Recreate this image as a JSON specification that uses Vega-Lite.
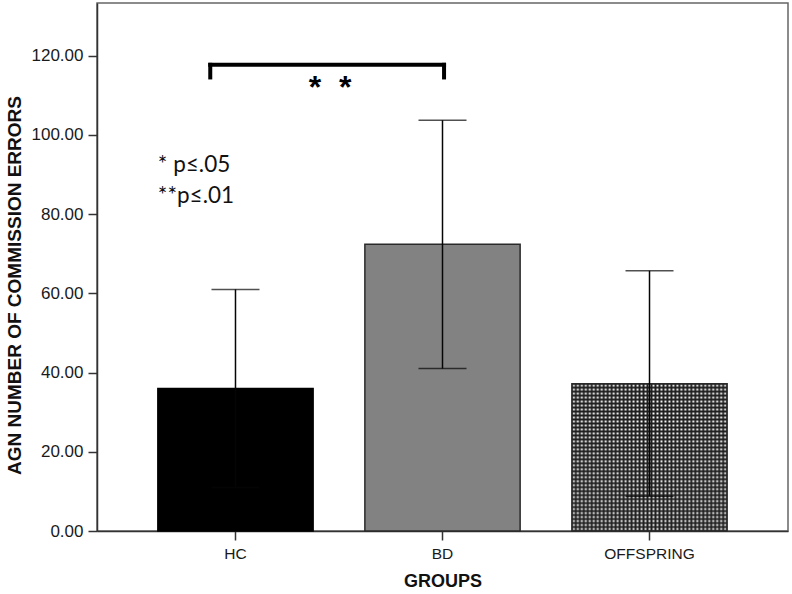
{
  "$schema": "https://vega.github.io/schema/vega-lite/v6.json",
  "autosize": {"type": "none"},
  "padding": {"left": 97, "top": 3, "right": 4, "bottom": 63},
  "width": 691,
  "height": 528,
  "background": "white",
  "datasets": {
    "bars": [
      {"group": "HC", "mean": 36.0, "lo": 11.0, "hi": 61.0},
      {"group": "BD", "mean": 72.4, "lo": 41.0, "hi": 103.7},
      {"group": "OFFSPRING", "mean": 37.2, "lo": 8.8, "hi": 65.7}
    ],
    "bracket": [{"from": "HC", "to": "BD", "y": 117.7, "ylo": 114.0, "ytop": 118.2, "stars": "*\u00a0\u00a0*", "ystars": 109.4}],
    "legend": [
      {"group": "HC", "label": "* p≤.05", "y": 92.3},
      {"group": "HC", "label": "**p≤.01", "y": 84.7}
    ]
  },
  "config": {
    "view": {"stroke": "#666", "strokeWidth": 1.5},
    "axis": {
      "labelFont": "Liberation Sans", "titleFont": "Liberation Sans",
      "labelColor": "#1a1a1a", "titleColor": "#111",
      "domainColor": "#333", "tickColor": "#333", "grid": false,
      "domainWidth": 1.5, "tickWidth": 1.5, "tickSize": 9
    }
  },
  "encoding": {
    "x": {
      "field": "group", "type": "nominal",
      "scale": {"domain": ["HC", "BD", "OFFSPRING"], "paddingInner": 0.25, "paddingOuter": 0.294},
      "sort": null,
      "axis": {"title": "GROUPS", "labelAngle": 0, "labelFontSize": 15.5, "labelPadding": 6, "titleFontSize": 18, "titleFontWeight": "bold", "titlePadding": 11}
    }
  },
  "layer": [
    {
      "data": {"name": "bars"},
      "transform": [{"filter": "datum.group != 'OFFSPRING'"}],
      "mark": {"type": "bar", "strokeWidth": 1.5},
      "encoding": {
        "y": {
          "field": "mean", "type": "quantitative",
          "scale": {"domain": [0, 133.3], "nice": false, "zero": true},
          "axis": {"title": "AGN NUMBER OF COMMISSION ERRORS", "titleY": 282, "values": [0, 20, 40, 60, 80, 100, 120], "format": ".2f", "labelFontSize": 17, "labelPadding": 5, "titleFontSize": 19, "titleFontWeight": "bold", "titlePadding": 7}
        },
        "fill": {"field": "group", "type": "nominal", "scale": {"domain": ["HC", "BD"], "range": ["#000000", "#828282"]}, "legend": null},
        "stroke": {"field": "group", "type": "nominal", "scale": {"domain": ["HC", "BD"], "range": ["#000000", "#2a2a2a"]}, "legend": null}
      }
    },
    {
      "data": {"name": "bars"},
      "transform": [{"filter": "datum.group == 'OFFSPRING'"}],
      "mark": {"type": "bar", "fill": "white", "strokeWidth": 0},
      "encoding": {"y": {"field": "mean", "type": "quantitative"}}
    },
    {
      "data": {"name": "bars"},
      "transform": [{"filter": "datum.group == 'OFFSPRING'"}],
      "mark": {"type": "bar", "strokeWidth": 0, "fill": {"gradient": "linear", "x1": 0, "x2": 1, "y1": 0, "y2": 0, "stops": [
        {"offset": 0, "color": "rgba(30,30,30,1)"}, {"offset": 0.01282, "color": "rgba(30,30,30,0)"},
        {"offset": 0.02564, "color": "rgba(30,30,30,1)"}, {"offset": 0.03846, "color": "rgba(30,30,30,0)"},
        {"offset": 0.05128, "color": "rgba(30,30,30,1)"}, {"offset": 0.06410, "color": "rgba(30,30,30,0)"},
        {"offset": 0.07692, "color": "rgba(30,30,30,1)"}, {"offset": 0.08974, "color": "rgba(30,30,30,0)"},
        {"offset": 0.10256, "color": "rgba(30,30,30,1)"}, {"offset": 0.11538, "color": "rgba(30,30,30,0)"},
        {"offset": 0.12821, "color": "rgba(30,30,30,1)"}, {"offset": 0.14103, "color": "rgba(30,30,30,0)"},
        {"offset": 0.15385, "color": "rgba(30,30,30,1)"}, {"offset": 0.16667, "color": "rgba(30,30,30,0)"},
        {"offset": 0.17949, "color": "rgba(30,30,30,1)"}, {"offset": 0.19231, "color": "rgba(30,30,30,0)"},
        {"offset": 0.20513, "color": "rgba(30,30,30,1)"}, {"offset": 0.21795, "color": "rgba(30,30,30,0)"},
        {"offset": 0.23077, "color": "rgba(30,30,30,1)"}, {"offset": 0.24359, "color": "rgba(30,30,30,0)"},
        {"offset": 0.25641, "color": "rgba(30,30,30,1)"}, {"offset": 0.26923, "color": "rgba(30,30,30,0)"},
        {"offset": 0.28205, "color": "rgba(30,30,30,1)"}, {"offset": 0.29487, "color": "rgba(30,30,30,0)"},
        {"offset": 0.30769, "color": "rgba(30,30,30,1)"}, {"offset": 0.32051, "color": "rgba(30,30,30,0)"},
        {"offset": 0.33333, "color": "rgba(30,30,30,1)"}, {"offset": 0.34615, "color": "rgba(30,30,30,0)"},
        {"offset": 0.35897, "color": "rgba(30,30,30,1)"}, {"offset": 0.37179, "color": "rgba(30,30,30,0)"},
        {"offset": 0.38462, "color": "rgba(30,30,30,1)"}, {"offset": 0.39744, "color": "rgba(30,30,30,0)"},
        {"offset": 0.41026, "color": "rgba(30,30,30,1)"}, {"offset": 0.42308, "color": "rgba(30,30,30,0)"},
        {"offset": 0.43590, "color": "rgba(30,30,30,1)"}, {"offset": 0.44872, "color": "rgba(30,30,30,0)"},
        {"offset": 0.46154, "color": "rgba(30,30,30,1)"}, {"offset": 0.47436, "color": "rgba(30,30,30,0)"},
        {"offset": 0.48718, "color": "rgba(30,30,30,1)"}, {"offset": 0.50000, "color": "rgba(30,30,30,0)"},
        {"offset": 0.51282, "color": "rgba(30,30,30,1)"}, {"offset": 0.52564, "color": "rgba(30,30,30,0)"},
        {"offset": 0.53846, "color": "rgba(30,30,30,1)"}, {"offset": 0.55128, "color": "rgba(30,30,30,0)"},
        {"offset": 0.56410, "color": "rgba(30,30,30,1)"}, {"offset": 0.57692, "color": "rgba(30,30,30,0)"},
        {"offset": 0.58974, "color": "rgba(30,30,30,1)"}, {"offset": 0.60256, "color": "rgba(30,30,30,0)"},
        {"offset": 0.61538, "color": "rgba(30,30,30,1)"}, {"offset": 0.62821, "color": "rgba(30,30,30,0)"},
        {"offset": 0.64103, "color": "rgba(30,30,30,1)"}, {"offset": 0.65385, "color": "rgba(30,30,30,0)"},
        {"offset": 0.66667, "color": "rgba(30,30,30,1)"}, {"offset": 0.67949, "color": "rgba(30,30,30,0)"},
        {"offset": 0.69231, "color": "rgba(30,30,30,1)"}, {"offset": 0.70513, "color": "rgba(30,30,30,0)"},
        {"offset": 0.71795, "color": "rgba(30,30,30,1)"}, {"offset": 0.73077, "color": "rgba(30,30,30,0)"},
        {"offset": 0.74359, "color": "rgba(30,30,30,1)"}, {"offset": 0.75641, "color": "rgba(30,30,30,0)"},
        {"offset": 0.76923, "color": "rgba(30,30,30,1)"}, {"offset": 0.78205, "color": "rgba(30,30,30,0)"},
        {"offset": 0.79487, "color": "rgba(30,30,30,1)"}, {"offset": 0.80769, "color": "rgba(30,30,30,0)"},
        {"offset": 0.82051, "color": "rgba(30,30,30,1)"}, {"offset": 0.83333, "color": "rgba(30,30,30,0)"},
        {"offset": 0.84615, "color": "rgba(30,30,30,1)"}, {"offset": 0.85897, "color": "rgba(30,30,30,0)"},
        {"offset": 0.87179, "color": "rgba(30,30,30,1)"}, {"offset": 0.88462, "color": "rgba(30,30,30,0)"},
        {"offset": 0.89744, "color": "rgba(30,30,30,1)"}, {"offset": 0.91026, "color": "rgba(30,30,30,0)"},
        {"offset": 0.92308, "color": "rgba(30,30,30,1)"}, {"offset": 0.93590, "color": "rgba(30,30,30,0)"},
        {"offset": 0.94872, "color": "rgba(30,30,30,1)"}, {"offset": 0.96154, "color": "rgba(30,30,30,0)"},
        {"offset": 0.97436, "color": "rgba(30,30,30,1)"}, {"offset": 0.98718, "color": "rgba(30,30,30,0)"},
        {"offset": 1, "color": "rgba(30,30,30,1)"}
      ]}},
      "encoding": {"y": {"field": "mean", "type": "quantitative"}}
    },
    {
      "data": {"name": "bars"},
      "transform": [{"filter": "datum.group == 'OFFSPRING'"}],
      "mark": {"type": "bar", "strokeWidth": 0, "fill": {"gradient": "linear", "x1": 0, "x2": 0, "y1": 0, "y2": 1, "stops": [
        {"offset": 0, "color": "rgba(30,30,30,1)"}, {"offset": 0.01351, "color": "rgba(30,30,30,0)"},
        {"offset": 0.02703, "color": "rgba(30,30,30,1)"}, {"offset": 0.04054, "color": "rgba(30,30,30,0)"},
        {"offset": 0.05405, "color": "rgba(30,30,30,1)"}, {"offset": 0.06757, "color": "rgba(30,30,30,0)"},
        {"offset": 0.08108, "color": "rgba(30,30,30,1)"}, {"offset": 0.09459, "color": "rgba(30,30,30,0)"},
        {"offset": 0.10811, "color": "rgba(30,30,30,1)"}, {"offset": 0.12162, "color": "rgba(30,30,30,0)"},
        {"offset": 0.13514, "color": "rgba(30,30,30,1)"}, {"offset": 0.14865, "color": "rgba(30,30,30,0)"},
        {"offset": 0.16216, "color": "rgba(30,30,30,1)"}, {"offset": 0.17568, "color": "rgba(30,30,30,0)"},
        {"offset": 0.18919, "color": "rgba(30,30,30,1)"}, {"offset": 0.20270, "color": "rgba(30,30,30,0)"},
        {"offset": 0.21622, "color": "rgba(30,30,30,1)"}, {"offset": 0.22973, "color": "rgba(30,30,30,0)"},
        {"offset": 0.24324, "color": "rgba(30,30,30,1)"}, {"offset": 0.25676, "color": "rgba(30,30,30,0)"},
        {"offset": 0.27027, "color": "rgba(30,30,30,1)"}, {"offset": 0.28378, "color": "rgba(30,30,30,0)"},
        {"offset": 0.29730, "color": "rgba(30,30,30,1)"}, {"offset": 0.31081, "color": "rgba(30,30,30,0)"},
        {"offset": 0.32432, "color": "rgba(30,30,30,1)"}, {"offset": 0.33784, "color": "rgba(30,30,30,0)"},
        {"offset": 0.35135, "color": "rgba(30,30,30,1)"}, {"offset": 0.36486, "color": "rgba(30,30,30,0)"},
        {"offset": 0.37838, "color": "rgba(30,30,30,1)"}, {"offset": 0.39189, "color": "rgba(30,30,30,0)"},
        {"offset": 0.40541, "color": "rgba(30,30,30,1)"}, {"offset": 0.41892, "color": "rgba(30,30,30,0)"},
        {"offset": 0.43243, "color": "rgba(30,30,30,1)"}, {"offset": 0.44595, "color": "rgba(30,30,30,0)"},
        {"offset": 0.45946, "color": "rgba(30,30,30,1)"}, {"offset": 0.47297, "color": "rgba(30,30,30,0)"},
        {"offset": 0.48649, "color": "rgba(30,30,30,1)"}, {"offset": 0.50000, "color": "rgba(30,30,30,0)"},
        {"offset": 0.51351, "color": "rgba(30,30,30,1)"}, {"offset": 0.52703, "color": "rgba(30,30,30,0)"},
        {"offset": 0.54054, "color": "rgba(30,30,30,1)"}, {"offset": 0.55405, "color": "rgba(30,30,30,0)"},
        {"offset": 0.56757, "color": "rgba(30,30,30,1)"}, {"offset": 0.58108, "color": "rgba(30,30,30,0)"},
        {"offset": 0.59459, "color": "rgba(30,30,30,1)"}, {"offset": 0.60811, "color": "rgba(30,30,30,0)"},
        {"offset": 0.62162, "color": "rgba(30,30,30,1)"}, {"offset": 0.63514, "color": "rgba(30,30,30,0)"},
        {"offset": 0.64865, "color": "rgba(30,30,30,1)"}, {"offset": 0.66216, "color": "rgba(30,30,30,0)"},
        {"offset": 0.67568, "color": "rgba(30,30,30,1)"}, {"offset": 0.68919, "color": "rgba(30,30,30,0)"},
        {"offset": 0.70270, "color": "rgba(30,30,30,1)"}, {"offset": 0.71622, "color": "rgba(30,30,30,0)"},
        {"offset": 0.72973, "color": "rgba(30,30,30,1)"}, {"offset": 0.74324, "color": "rgba(30,30,30,0)"},
        {"offset": 0.75676, "color": "rgba(30,30,30,1)"}, {"offset": 0.77027, "color": "rgba(30,30,30,0)"},
        {"offset": 0.78378, "color": "rgba(30,30,30,1)"}, {"offset": 0.79730, "color": "rgba(30,30,30,0)"},
        {"offset": 0.81081, "color": "rgba(30,30,30,1)"}, {"offset": 0.82432, "color": "rgba(30,30,30,0)"},
        {"offset": 0.83784, "color": "rgba(30,30,30,1)"}, {"offset": 0.85135, "color": "rgba(30,30,30,0)"},
        {"offset": 0.86486, "color": "rgba(30,30,30,1)"}, {"offset": 0.87838, "color": "rgba(30,30,30,0)"},
        {"offset": 0.89189, "color": "rgba(30,30,30,1)"}, {"offset": 0.90541, "color": "rgba(30,30,30,0)"},
        {"offset": 0.91892, "color": "rgba(30,30,30,1)"}, {"offset": 0.93243, "color": "rgba(30,30,30,0)"},
        {"offset": 0.94595, "color": "rgba(30,30,30,1)"}, {"offset": 0.95946, "color": "rgba(30,30,30,0)"},
        {"offset": 0.97297, "color": "rgba(30,30,30,1)"}, {"offset": 0.98649, "color": "rgba(30,30,30,0)"},
        {"offset": 1, "color": "rgba(30,30,30,1)"}
      ]}},
      "encoding": {"y": {"field": "mean", "type": "quantitative"}}
    },
    {
      "data": {"name": "bars"},
      "transform": [{"filter": "datum.group == 'OFFSPRING'"}],
      "mark": {"type": "bar", "fill": null, "fillOpacity": 0, "stroke": "#2a2a2a", "strokeWidth": 1.5},
      "encoding": {"y": {"field": "mean", "type": "quantitative"}}
    },
    {
      "data": {"name": "bars"},
      "mark": {"type": "rule", "color": "#050505", "strokeWidth": 1.5},
      "encoding": {"y": {"field": "lo", "type": "quantitative"}, "y2": {"field": "hi"}}
    },
    {
      "data": {"name": "bars"},
      "mark": {"type": "tick", "color": "#050505", "thickness": 1.5, "size": 48},
      "encoding": {"y": {"field": "hi", "type": "quantitative"}}
    },
    {
      "data": {"name": "bars"},
      "mark": {"type": "tick", "color": "#050505", "thickness": 1.5, "size": 48},
      "encoding": {"y": {"field": "lo", "type": "quantitative"}}
    },
    {
      "data": {"name": "bracket"},
      "mark": {"type": "rule", "color": "#000", "strokeWidth": 4, "strokeCap": "square"},
      "encoding": {
        "x": {"field": "from", "type": "nominal", "bandPosition": 0.3375},
        "x2": {"field": "to", "bandPosition": 0.51},
        "y": {"field": "y", "type": "quantitative"}
      }
    },
    {
      "data": {"name": "bracket"},
      "mark": {"type": "rule", "color": "#000", "strokeWidth": 4},
      "encoding": {
        "x": {"field": "from", "type": "nominal", "bandPosition": 0.3375},
        "y": {"field": "ylo", "type": "quantitative"},
        "y2": {"field": "ytop"}
      }
    },
    {
      "data": {"name": "bracket"},
      "mark": {"type": "rule", "color": "#000", "strokeWidth": 4},
      "encoding": {
        "x": {"field": "to", "type": "nominal", "bandPosition": 0.51},
        "y": {"field": "ylo", "type": "quantitative"},
        "y2": {"field": "ytop"}
      }
    },
    {
      "data": {"name": "bracket"},
      "mark": {"type": "text", "font": "Liberation Sans", "fontWeight": "bold", "fontSize": 32, "align": "center", "baseline": "alphabetic", "color": "#000"},
      "encoding": {
        "x": {"field": "from", "type": "nominal", "bandPosition": 1.11},
        "y": {"field": "ystars", "type": "quantitative"},
        "text": {"field": "stars"}
      }
    },
    {
      "data": {"name": "legend"},
      "mark": {"type": "text", "font": "Lato", "fontSize": 22.5, "align": "left", "baseline": "middle", "color": "#111"},
      "encoding": {
        "x": {"field": "group", "type": "nominal", "bandPosition": 0},
        "y": {"field": "y", "type": "quantitative"},
        "text": {"field": "label"}
      }
    }
  ]
}
